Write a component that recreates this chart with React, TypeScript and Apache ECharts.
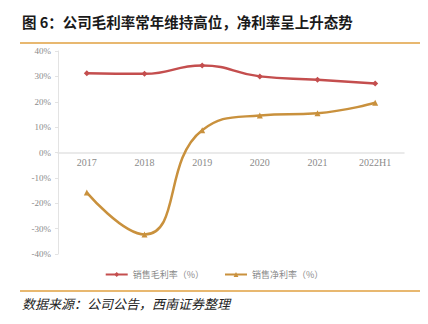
import React, { useEffect, useRef } from "react";
import * as echarts from "echarts";

const categories = ["2017", "2018", "2019", "2020", "2021", "2022H1"];
const grossMargin = [31.2, 31.0, 34.3, 30.0, 28.7, 27.2];
const netMargin = [-15.8, -32.3, 8.8, 14.6, 15.5, 19.6];
const seriesNames = ["销售毛利率（%）", "销售净利率（%）"];
const titleText = "图 6：公司毛利率常年维持高位，净利率呈上升态势";
const sourceText = "数据来源：公司公告，西南证券整理";

export default function App() {
  const ref = useRef<HTMLDivElement>(null);
  useEffect(() => {
    const chart = echarts.init(ref.current!, null, { renderer: "svg" });
    chart.setOption({
      animation: false,
      backgroundColor: "#ffffff",
      grid: { left: 58, right: 24, top: 51, bottom: 70 },
      xAxis: {
        type: "category",
        data: categories,
        boundaryGap: true,
        offset: -101.5,
        axisLine: { onZero: false, lineStyle: { color: "#e3e3e3", width: 1.5 } },
        axisTick: { show: false },
        axisLabel: {
          color: "#8a8a8a",
          fontFamily: "Liberation Serif",
          fontSize: 10,
          margin: 5,
        },
      },
      yAxis: {
        type: "value",
        min: -40,
        max: 40,
        interval: 10,
        axisLine: { show: true, lineStyle: { color: "#e3e3e3" } },
        axisTick: { show: true, length: 3, lineStyle: { color: "#e3e3e3" } },
        splitLine: { show: false },
        axisLabel: {
          color: "#8a8a8a",
          fontFamily: "Liberation Serif",
          fontSize: 9,
          margin: 7,
          formatter: (v: number) => v + "%",
        },
      },
      legend: {
        bottom: 40,
        left: "center",
        itemWidth: 22,
        itemHeight: 6,
        itemGap: 20,
        textStyle: { color: "#8a8a8a", fontSize: 9, fontFamily: "Noto Sans CJK SC" },
        data: seriesNames,
      },
      series: [
        {
          name: seriesNames[0],
          type: "line",
          data: grossMargin,
          smooth: true,
          symbol: "diamond",
          symbolSize: 6,
          lineStyle: { color: "#C44E4E", width: 2.5 },
          itemStyle: { color: "#C44E4E" },
        },
        {
          name: seriesNames[1],
          type: "line",
          data: netMargin,
          smooth: true,
          symbol: "triangle",
          symbolSize: 6,
          lineStyle: { color: "#C9913D", width: 2.5 },
          itemStyle: { color: "#C9913D" },
        },
      ],
      graphic: [
        {
          type: "text",
          left: 22,
          top: 14,
          style: {
            text: titleText,
            font: "bold 14.5px 'Noto Sans CJK SC'",
            fill: "#1a1a1a",
          },
        },
        {
          type: "line",
          shape: { x1: 20, y1: 43, x2: 420, y2: 43 },
          style: { stroke: "#E0A040", lineWidth: 1.5 },
        },
        {
          type: "line",
          shape: { x1: 20, y1: 291, x2: 420, y2: 291 },
          style: { stroke: "#E0A040", lineWidth: 1.5 },
        },
        {
          type: "text",
          left: 22,
          top: 297,
          style: {
            text: sourceText,
            font: "italic 13px 'Noto Sans CJK SC'",
            fill: "#222222",
          },
        },
      ],
    });
    return () => chart.dispose();
  }, []);
  return (
    <div
      ref={ref}
      style={{ position: "absolute", left: 0, top: 0, width: 428, height: 324 }}
    />
  );
}
